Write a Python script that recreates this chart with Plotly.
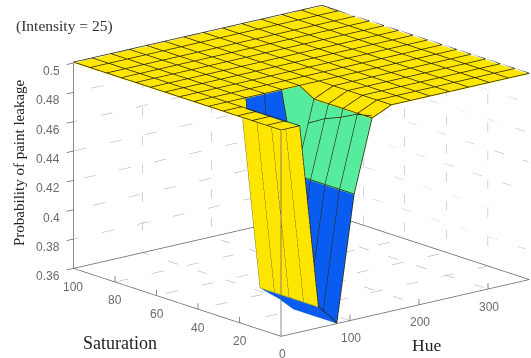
import plotly.graph_objects as go

hue = [0, 27, 54, 81, 106, 132, 160, 188, 216, 244, 272, 302, 330, 360]
sat = [0, 7, 14, 21, 28, 35, 42, 49, 56, 63, 70, 77, 84, 92, 100]

# rows follow sat, columns follow hue
leak_low_sat = [
    [0.5, 0.5, 0.374, 0.36, 0.445, 0.494, 0.5, 0.5, 0.5, 0.5, 0.5, 0.5, 0.5, 0.5],
    [0.5, 0.5, 0.374, 0.36, 0.445, 0.494, 0.5, 0.5, 0.5, 0.5, 0.5, 0.5, 0.5, 0.5],
    [0.5, 0.5, 0.374, 0.36, 0.445, 0.494, 0.5, 0.5, 0.5, 0.5, 0.5, 0.5, 0.5, 0.5],
    [0.5, 0.5, 0.374, 0.36, 0.445, 0.494, 0.5, 0.5, 0.5, 0.5, 0.5, 0.5, 0.5, 0.5],
    [0.5, 0.5, 0.374, 0.364, 0.445, 0.494, 0.5, 0.5, 0.5, 0.5, 0.5, 0.5, 0.5, 0.5],
]
leak_flat = [0.5] * 14
leak = leak_low_sat + [leak_flat] * 10

# the fold line across the green faces
fold_hue = [123, 126, 128.4, 131, 132]
fold_sat = [28, 21, 14, 7, 0]
fold_z = [0.479, 0.485, 0.489, 0.494, 0.496]

hue_ticks = [0, 100, 200, 300]
sat_ticks = [20, 40, 60, 80, 100]
z_ticks = [0.36, 0.38, 0.4, 0.42, 0.44, 0.46, 0.48, 0.5]
z_tick_text = ["0.36", "0.38", "0.4", "0.42", "0.44", "0.46", "0.48", "0.5"]

yellow = "#ffe600"
green = "#55ec9e"
blue = "#0a5cf0"
line_col = "#2a2400"
grid_col = "#a6a6a6"
axis_col = "#666666"


def face_colour(v):
    # flat shading: the face takes the colour of its first corner
    if v >= 0.49:
        return yellow
    if v >= 0.42:
        return green
    return blue


xs, ys, zs = [], [], []
for j, s in enumerate(sat):
    for i, h in enumerate(hue):
        xs.append(h)
        ys.append(s)
        zs.append(leak[j][i])

ia, ib, ic, colours = [], [], [], []
n = len(hue)
for j in range(len(sat) - 1):
    for i in range(n - 1):
        p = j * n + i
        col = face_colour(leak[j][i])
        ia += [p, p]
        ib += [p + 1, p + n + 1]
        ic += [p + n + 1, p + n]
        colours += [col, col]

fig = go.Figure()
fig.add_trace(
    go.Mesh3d(
        x=xs,
        y=ys,
        z=zs,
        i=ia,
        j=ib,
        k=ic,
        facecolor=colours,
        flatshading=True,
        lighting=dict(ambient=1, diffuse=0, specular=0, fresnel=0),
        hoverinfo="skip",
    )
)

# mesh lines, lifted a touch so they do not fight with the faces
lift = 0.0006
lx, ly, lz = [], [], []
for j, s in enumerate(sat):
    lx += hue + [None]
    ly += [s] * n + [None]
    lz += [v + lift for v in leak[j]] + [None]
for i, h in enumerate(hue):
    lx += [h] * len(sat) + [None]
    ly += sat + [None]
    lz += [row[i] + lift for row in leak] + [None]
lx += fold_hue
ly += fold_sat
lz += fold_z
fig.add_trace(
    go.Scatter3d(x=lx, y=ly, z=lz, mode="lines", line=dict(color=line_col, width=1.5), hoverinfo="skip")
)

# dotted grid on floor and back walls
gx, gy, gz = [], [], []
for h in hue_ticks[1:]:
    gx += [h, h, h, None]
    gy += [0, 100, 100, None]
    gz += [0.36, 0.36, 0.5, None]
for s in sat_ticks[:-1]:
    gx += [0, 360, 360, None]
    gy += [s, s, s, None]
    gz += [0.36, 0.36, 0.5, None]
for v in z_ticks[1:]:
    gx += [0, 360, 360, None]
    gy += [100, 100, 0, None]
    gz += [v, v, v, None]
fig.add_trace(
    go.Scatter3d(x=gx, y=gy, z=gz, mode="lines", line=dict(color=grid_col, width=1, dash="dot"), hoverinfo="skip")
)

# box edges and tick marks
bx = [0, 360, 360, None, 0, 0, None, 0, 0, None, 0, 360, None, 0, 0, None]
by = [100, 100, 0, None, 0, 0, None, 100, 100, None, 0, 0, None, 0, 100, None]
bz = [0.36, 0.36, 0.36, None, 0.36, 0.5, None, 0.36, 0.5, None, 0.36, 0.36, None, 0.36, 0.36, None]
for h in hue_ticks:
    bx += [h, h, None]
    by += [0, 0, None]
    bz += [0.36, 0.364, None]
for s in sat_ticks:
    bx += [0, 0, None]
    by += [s, s, None]
    bz += [0.36, 0.364, None]
for v in z_ticks:
    bx += [-10, 0, None]
    by += [100, 100, None]
    bz += [v, v, None]
fig.add_trace(
    go.Scatter3d(x=bx, y=by, z=bz, mode="lines", line=dict(color=axis_col, width=1.5), hoverinfo="skip")
)

tick_font = dict(family="Liberation Sans", size=12, color="#6a6a6a")
axis_common = dict(
    showgrid=False,
    zeroline=False,
    showbackground=False,
    showspikes=False,
    showline=False,
    showticklabels=False,
    ticks="",
    title=dict(text=""),
)

tick_labels = []
for h in hue_ticks:
    tick_labels.append(dict(x=h, y=0, z=0.36, text=str(h), xshift=1, yshift=-17.5))
for s in sat_ticks:
    tick_labels.append(dict(x=0, y=s, z=0.36, text=str(s), xshift=0, yshift=-18.5))
for v, t in zip(z_ticks, z_tick_text):
    tick_labels.append(dict(x=0, y=100, z=v, text=t, xanchor="right", xshift=-11, yshift=-8))
for a in tick_labels:
    a.update(showarrow=False, font=tick_font, yanchor="middle")

# view direction, and how far the look-at point sits off the box centre
d = 4
view = (-0.617, -0.738, 0.2736)
look = (-0.137, 0.1189, -0.0371)
# orthographic zoom in plotly goes through the aspect ratio
zoom = 1.808

page_w, page_h = 531, 358
labels = [
    ("(Intensity = 25)", 14, 26, "Liberation Serif", 15.5, "#333333", 0, "left"),
    ("Probability of paint leakage", 19, 163, "Liberation Serif", 15, "#222222", -90, "center"),
    ("Saturation", 81, 343, "Liberation Serif", 18, "#222222", 0, "left"),
    ("Hue", 410, 345, "Liberation Serif", 17.5, "#222222", 0, "left"),
]

fig.update_layout(
    width=page_w,
    height=page_h,
    margin=dict(l=0, r=0, t=0, b=0),
    paper_bgcolor="white",
    showlegend=False,
    scene=dict(
        domain=dict(x=[0, 1], y=[0, 1]),
        aspectmode="manual",
        aspectratio=dict(x=zoom * 370 / 360, y=zoom, z=0.6741 * zoom),
        xaxis=dict(axis_common, range=[-10, 360]),
        yaxis=dict(axis_common, range=[0, 100]),
        zaxis=dict(axis_common, range=[0.358, 0.501]),
        annotations=tick_labels,
        camera=dict(
            projection=dict(type="orthographic"),
            eye=dict(x=look[0] + view[0] * d, y=look[1] + view[1] * d, z=look[2] + view[2] * d),
            up=dict(x=0, y=0, z=1),
            center=dict(x=look[0], y=look[1], z=look[2]),
        ),
    ),
)
for text, px, py, family, size, colour, angle, anchor in labels:
    fig.add_annotation(
        x=px / page_w,
        y=1 - py / page_h,
        xref="paper",
        yref="paper",
        text=text,
        showarrow=False,
        textangle=angle,
        xanchor=anchor,
        yanchor="middle",
        font=dict(family=family, size=size, color=colour),
    )

# drop the browser's default body margin so the page fills the window
fig.write_html(
    "out.html",
    config={"displayModeBar": False},
    post_script="document.body.style.margin = '0';",
)
